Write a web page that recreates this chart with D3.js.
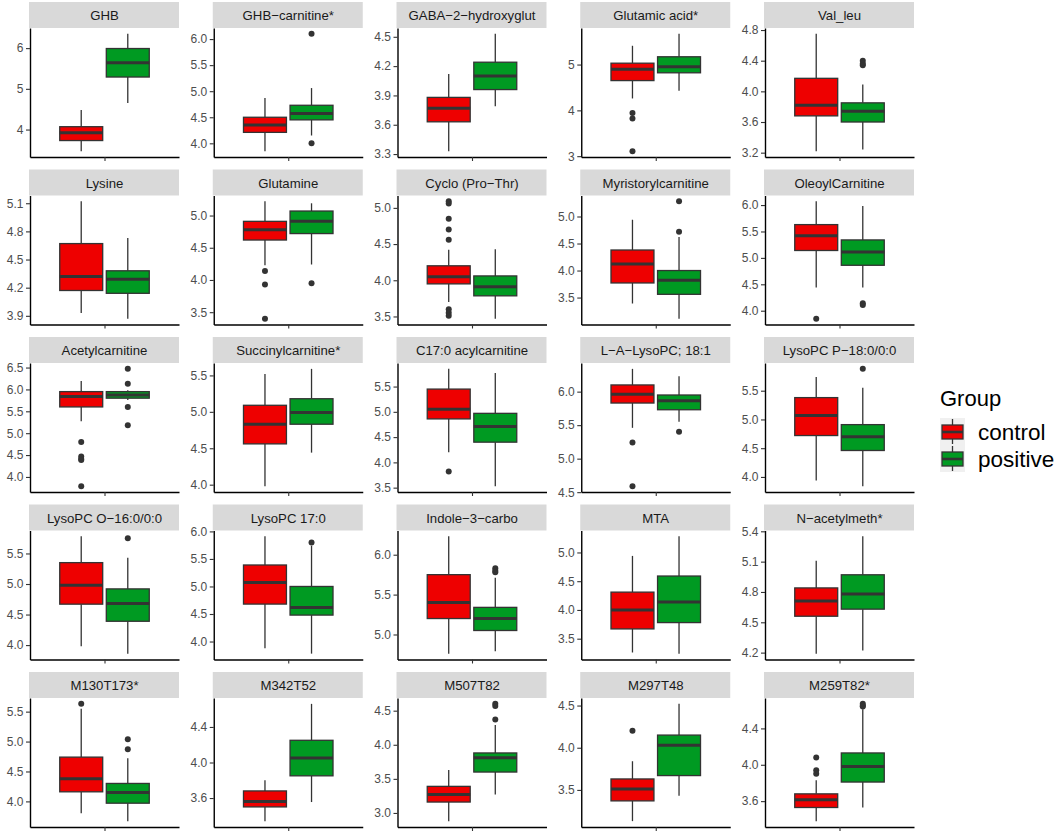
<!DOCTYPE html>
<html>
<head>
<meta charset="utf-8">
<script src="https://cdn.jsdelivr.net/npm/d3@7"></script>
<style>
  body { margin: 0; background: #fff; }
  svg { display: block; font-family: "Liberation Sans", Arial, sans-serif; }
</style>
</head>
<body>
<div id="chart"></div>
<script>
// facet names, row by row
const metabolites = [
  "GHB", "GHB\u2212carnitine*", "GABA\u22122\u2212hydroxyglut", "Glutamic acid*", "Val_leu",
  "Lysine", "Glutamine", "Cyclo (Pro\u2212Thr)", "Myristorylcarnitine", "OleoylCarnitine",
  "Acetylcarnitine", "Succinylcarnitine*", "C17:0 acylcarnitine", "L\u2212A\u2212LysoPC; 18:1", "LysoPC P\u221218:0/0:0",
  "LysoPC O\u221216:0/0:0", "LysoPC 17:0", "Indole\u22123\u2212carbo", "MTA", "N\u2212acetylmeth*",
  "M130T173*", "M342T52", "M507T82", "M297T48", "M259T82*"
];

const groups = ["control", "positive"];
const groupColors = ["#EE0000", "#009A22"];

// [lower whisker, q1, median, q3, upper whisker]
const controlStats = [
  [3.47, 3.73, 3.92, 4.07, 4.48],
  [3.85, 4.21, 4.35, 4.50, 4.87],
  [3.33, 3.63, 3.77, 3.88, 4.12],
  [4.26, 4.65, 4.90, 5.03, 5.41],
  [3.22, 3.68, 3.82, 4.17, 4.75],
  [3.93, 4.17, 4.32, 4.67, 5.12],
  [4.23, 4.62, 4.78, 4.91, 5.22],
  [3.70, 3.95, 4.05, 4.20, 4.42],
  [3.39, 3.77, 4.12, 4.38, 4.94],
  [4.44, 5.14, 5.42, 5.63, 6.07],
  [5.27, 5.60, 5.84, 5.95, 6.19],
  [3.98, 4.56, 4.83, 5.09, 5.52],
  [4.20, 4.86, 5.05, 5.45, 5.85],
  [5.46, 5.83, 5.96, 6.10, 6.34],
  [3.94, 4.72, 5.07, 5.38, 5.74],
  [3.98, 4.67, 4.98, 5.35, 5.78],
  [3.88, 4.68, 5.07, 5.39, 5.91],
  [4.76, 5.20, 5.40, 5.75, 6.23],
  [3.26, 3.67, 4.00, 4.31, 4.94],
  [4.19, 4.56, 4.71, 4.84, 5.11],
  [3.80, 4.16, 4.38, 4.74, 5.55],
  [3.34, 3.50, 3.56, 3.68, 3.80],
  [2.88, 3.16, 3.27, 3.39, 3.63],
  [3.13, 3.37, 3.51, 3.63, 3.84],
  [3.38, 3.53, 3.615, 3.68, 3.83]
];

const positiveStats = [
  [4.65, 5.29, 5.64, 5.99, 6.35],
  [4.15, 4.45, 4.57, 4.73, 5.06],
  [3.79, 3.96, 4.10, 4.24, 4.53],
  [4.43, 4.82, 4.95, 5.17, 5.67],
  [3.24, 3.60, 3.74, 3.85, 4.09],
  [3.87, 4.14, 4.29, 4.38, 4.73],
  [4.24, 4.72, 4.91, 5.07, 5.19],
  [3.47, 3.785, 3.91, 4.06, 4.43],
  [3.11, 3.56, 3.82, 4.00, 4.62],
  [4.44, 4.86, 5.11, 5.34, 5.98],
  [5.76, 5.80, 5.87, 5.95, 5.98],
  [4.44, 4.83, 4.99, 5.18, 5.59],
  [3.53, 4.40, 4.71, 4.97, 5.77],
  [5.55, 5.73, 5.865, 5.95, 6.23],
  [3.84, 4.46, 4.70, 4.91, 5.55],
  [3.86, 4.39, 4.68, 4.92, 5.43],
  [3.78, 4.48, 4.62, 5.00, 5.74],
  [4.79, 5.05, 5.20, 5.34, 5.71],
  [3.24, 3.78, 4.14, 4.59, 5.28],
  [4.22, 4.63, 4.78, 4.97, 5.35],
  [3.67, 3.97, 4.15, 4.30, 4.72],
  [3.555, 3.85, 4.05, 4.25, 4.66],
  [3.27, 3.60, 3.81, 3.88, 4.29],
  [3.43, 3.67, 4.03, 4.15, 4.52],
  [3.53, 3.81, 3.98, 4.13, 4.61]
];

const controlOutliers = [
  [], [], [], [3.94, 3.82, 3.11], [],
  [], [4.14, 3.93, 3.40], [5.09, 5.06, 4.85, 4.70, 4.56, 3.60, 3.55, 3.51], [], [3.85],
  [4.80, 4.47, 4.41, 4.39, 3.79], [], [3.82], [5.24, 4.59], [],
  [], [], [], [], [],
  [5.63], [], [], [4.20], [4.08, 3.94, 3.90]
];

const positiveOutliers = [
  [], [6.10, 4.00], [], [], [4.40, 4.36, 4.34],
  [], [3.95], [], [5.28, 4.72], [4.14, 4.11],
  [6.47, 6.13, 5.60, 5.18], [], [], [5.40], [5.88],
  [5.75], [5.80], [5.83, 5.80, 5.78], [], [],
  [5.04, 4.87], [], [4.60, 4.57, 4.37], [], [4.67, 4.65, 4.64]
];

const yTicks = [
  [4, 5, 6], [4.0, 4.5, 5.0, 5.5, 6.0], [3.3, 3.6, 3.9, 4.2, 4.5], [3, 4, 5], [3.2, 3.6, 4.0, 4.4, 4.8],
  [3.9, 4.2, 4.5, 4.8, 5.1], [3.5, 4.0, 4.5, 5.0], [3.5, 4.0, 4.5, 5.0], [3.5, 4.0, 4.5, 5.0], [4.0, 4.5, 5.0, 5.5, 6.0],
  [4.0, 4.5, 5.0, 5.5, 6.0, 6.5], [4.0, 4.5, 5.0, 5.5], [3.5, 4.0, 4.5, 5.0, 5.5], [4.5, 5.0, 5.5, 6.0], [4.0, 4.5, 5.0, 5.5],
  [4.0, 4.5, 5.0, 5.5], [4.0, 4.5, 5.0, 5.5, 6.0], [5.0, 5.5, 6.0], [3.5, 4.0, 4.5, 5.0], [4.2, 4.5, 4.8, 5.1, 5.4],
  [4.0, 4.5, 5.0, 5.5], [3.6, 4.0, 4.4], [3.0, 3.5, 4.0, 4.5], [3.5, 4.0, 4.5], [3.6, 4.0, 4.4]
];

const W = 1059, H = 840;
const panelW = 149, stripH = 26, plotH = 129;
const outline = "#333333";

const svg = d3.select("#chart").append("svg")
  .attr("width", W)
  .attr("height", H);

svg.append("rect").attr("width", W).attr("height", H).attr("fill", "#fff");

const colX = d3.scaleLinear().domain([0, 4]).range([30, 765]);
const rowY = d3.scaleLinear().domain([0, 4]).range([2, 672]);

// discrete x with one level, dodged boxes
const x = d3.scaleLinear().domain([0.4, 1.6]).range([0, panelW]);
const dodge = [0.8125, 1.1875];
const halfBox = 0.173;

metabolites.forEach((name, i) => {
  const col = i % 5, row = Math.floor(i / 5);
  const g = svg.append("g")
    .attr("transform", `translate(${colX(col)},${rowY(row)})`);

  // strip
  g.append("rect")
    .attr("x", -1).attr("y", 0)
    .attr("width", panelW + 1).attr("height", stripH)
    .attr("fill", "#D9D9D9");
  g.append("text")
    .attr("x", panelW / 2).attr("y", stripH / 2 + 5)
    .attr("text-anchor", "middle")
    .attr("font-size", "13.2px")
    .attr("fill", "#1A1A1A")
    .text(name);

  const p = g.append("g").attr("transform", `translate(0,${stripH})`);

  const stats = [controlStats[i], positiveStats[i]];
  const outs = [controlOutliers[i], positiveOutliers[i]];
  const all = stats.flat().concat(outs.flat());
  const [lo, hi] = d3.extent(all);
  const pad = (hi - lo) * 0.05;
  const y = d3.scaleLinear().domain([lo - pad, hi + pad]).range([plotH, 0]);

  stats.forEach((s, k) => {
    const cx = x(dodge[k]);
    const x0 = x(dodge[k] - halfBox), x1 = x(dodge[k] + halfBox);
    // whiskers
    p.append("line")
      .attr("x1", cx).attr("x2", cx)
      .attr("y1", y(s[3])).attr("y2", y(s[4]))
      .attr("stroke", outline).attr("stroke-width", 1.3);
    p.append("line")
      .attr("x1", cx).attr("x2", cx)
      .attr("y1", y(s[1])).attr("y2", y(s[0]))
      .attr("stroke", outline).attr("stroke-width", 1.3);
    // box
    p.append("rect")
      .attr("x", x0).attr("y", y(s[3]))
      .attr("width", x1 - x0).attr("height", y(s[1]) - y(s[3]))
      .attr("fill", groupColors[k])
      .attr("stroke", outline).attr("stroke-width", 1.3);
    // median
    p.append("line")
      .attr("x1", x0).attr("x2", x1)
      .attr("y1", y(s[2])).attr("y2", y(s[2]))
      .attr("stroke", outline).attr("stroke-width", 3);
    // outliers
    p.selectAll(null)
      .data(outs[k])
      .join("circle")
      .attr("cx", cx)
      .attr("cy", d => y(d))
      .attr("r", 3)
      .attr("fill", outline);
  });

  const allInt = yTicks[i].every(t => Number.isInteger(t));
  const yAxis = p.append("g")
    .call(d3.axisLeft(y)
      .tickValues(yTicks[i])
      .tickSize(4)
      .tickSizeOuter(0)
      .tickPadding(2.5)
      .tickFormat(allInt ? d3.format("d") : d3.format(".1f")));
  yAxis.select(".domain").attr("stroke", "#000").attr("stroke-width", 1.4);
  yAxis.selectAll(".tick line").attr("stroke", "#333").attr("stroke-width", 1.1);
  yAxis.selectAll(".tick text")
    .attr("fill", "#4D4D4D")
    .attr("font-size", "12px")
    .attr("font-family", "Liberation Sans, Arial, sans-serif");

  const xAxis = p.append("g")
    .attr("transform", `translate(0,${plotH})`)
    .call(d3.axisBottom(x).tickValues([1]).tickSize(4).tickSizeOuter(0).tickFormat(""));
  xAxis.select(".domain").attr("stroke", "#000").attr("stroke-width", 1.4);
  xAxis.selectAll(".tick line").attr("stroke", "#333").attr("stroke-width", 1.1);
});

// legend
const legend = svg.append("g").attr("transform", "translate(940,390)");
legend.append("text")
  .attr("x", 0).attr("y", 15.5)
  .attr("font-size", "22px")
  .attr("fill", "#000")
  .text("Group");

groups.forEach((grp, k) => {
  const ky = 28 + k * 27;
  const key = legend.append("g").attr("transform", `translate(0,${ky})`);
  key.append("rect")
    .attr("width", 25).attr("height", 27)
    .attr("fill", "#F0F0F0");
  key.append("line")
    .attr("x1", 12.5).attr("x2", 12.5).attr("y1", 1).attr("y2", 26)
    .attr("stroke", outline).attr("stroke-width", 1.3);
  key.append("rect")
    .attr("x", 2).attr("y", 7)
    .attr("width", 21).attr("height", 14)
    .attr("fill", groupColors[k])
    .attr("stroke", outline).attr("stroke-width", 1.3);
  key.append("line")
    .attr("x1", 2).attr("x2", 23).attr("y1", 14).attr("y2", 14)
    .attr("stroke", outline).attr("stroke-width", 2.6);
  key.append("text")
    .attr("x", 38).attr("y", 21.5)
    .attr("font-size", "22.5px")
    .attr("fill", "#000")
    .text(grp);
});
</script>
</body>
</html>
